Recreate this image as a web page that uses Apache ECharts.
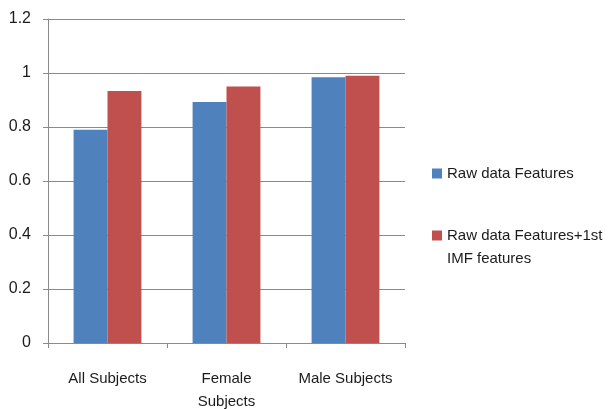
<!DOCTYPE html>
<html>
<head>
<meta charset="utf-8">
<script src="https://cdn.jsdelivr.net/npm/echarts@6/dist/echarts.min.js"></script>
<style>
  html, body { margin: 0; padding: 0; background: #fff; }
  #chart { width: 612px; height: 409px; }
</style>
</head>
<body>
<div id="chart"></div>
<script>
// Accuracy per subject group, two feature sets
const categories = ['All Subjects', 'Female\nSubjects', 'Male Subjects'];
const seriesNames = ['Raw data Features', 'Raw data Features+1st IMF features'];
const rawFeatures = [0.79, 0.893, 0.984];
const rawPlusImf = [0.933, 0.95, 0.99];
const yTicks = { min: 0, max: 1.2, step: 0.2 };

const FONT = '"Liberation Sans", Arial, sans-serif';
const TEXT = '#1b1b1b';
const LINE = '#8a8a8a';

const chart = echarts.init(document.getElementById('chart'), null, { renderer: 'canvas' });

chart.setOption({
  animation: false,
  backgroundColor: '#ffffff',
  grid: { left: 48, right: 207, top: 19, bottom: 66, containLabel: false, outerBoundsMode: 'none' },
  legend: [
    {
      data: [seriesNames[0]],
      orient: 'vertical',
      left: 432,
      top: 162,
      padding: 0,
      itemWidth: 10,
      itemHeight: 10,
      itemGap: 0,
      icon: 'rect',
      textStyle: { fontFamily: FONT, fontSize: 15, color: TEXT, lineHeight: 23 }
    },
    {
      data: [seriesNames[1]],
      orient: 'vertical',
      left: 432,
      top: 201,
      padding: 0,
      itemWidth: 10,
      itemHeight: 10,
      itemGap: 0,
      icon: 'rect',
      // blank leading line keeps the swatch level with the first text line
      formatter: function (name) { return ' \n' + name.replace(' IMF', '\nIMF'); },
      textStyle: { fontFamily: FONT, fontSize: 15, color: TEXT, lineHeight: 23 }
    }
  ],
  xAxis: {
    type: 'category',
    data: categories,
    axisLine: { show: true, lineStyle: { color: LINE, width: 1 } },
    axisTick: { show: true, alignWithLabel: false, length: 5, lineStyle: { color: LINE } },
    axisLabel: { fontFamily: FONT, fontSize: 15, color: TEXT, margin: 24, lineHeight: 23, interval: 0 }
  },
  yAxis: {
    type: 'value',
    min: yTicks.min,
    max: yTicks.max,
    interval: yTicks.step,
    axisLine: { show: true, lineStyle: { color: LINE, width: 1 } },
    axisTick: { show: true, length: 5, lineStyle: { color: LINE } },
    axisLabel: { fontFamily: FONT, fontSize: 16, color: TEXT, margin: 17 },
    splitLine: { show: true, lineStyle: { color: LINE, width: 1 } }
  },
  series: [
    {
      name: seriesNames[0],
      type: 'bar',
      data: rawFeatures,
      itemStyle: { color: '#4f81bd' },
      barGap: '0%',
      barCategoryGap: '43%'
    },
    {
      name: seriesNames[1],
      type: 'bar',
      data: rawPlusImf,
      itemStyle: { color: '#c0504d' },
      barGap: '0%',
      barCategoryGap: '43%'
    }
  ]
});
</script>
</body>
</html>
